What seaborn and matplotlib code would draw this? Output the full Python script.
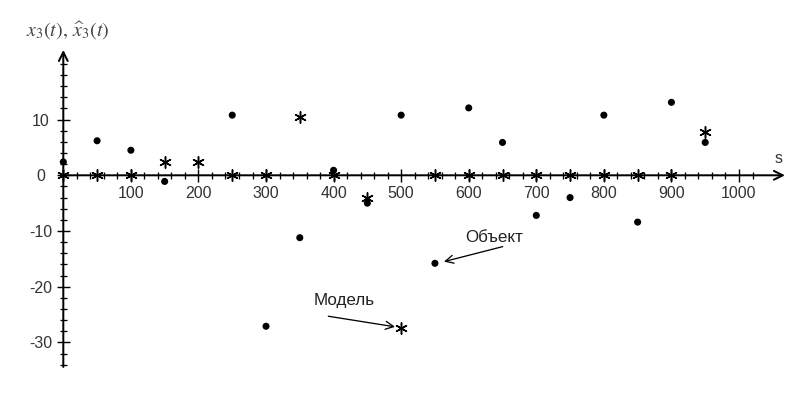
import matplotlib
matplotlib.use("Agg")
import matplotlib.pyplot as plt
import seaborn as sns
import numpy as np

# object (dots) and model (asterisks)
s_obj = [0, 50, 100, 150, 250, 300, 350, 400, 450, 500, 550, 600, 650, 700, 750, 800, 850, 900, 950]
x_obj = [2.4, 6.2, 4.5, -1.1, 10.8, -27.1, -11.2, 0.9, -5.0, 10.8, -15.8, 12.1, 5.9, -7.2, -4.0, 10.8, -8.4, 13.1, 5.9]

s_mod = [0, 50, 100, 150, 200, 250, 300, 350, 400, 450, 500, 550, 600, 650, 700, 750, 800, 850, 900, 950]
x_mod = [0, 0, 0, 2.3, 2.4, 0, 0, 10.4, 0, -4.1, -27.5, 0, 0, 0, 0, 0, 0, 0, 0, 7.8]

x_major = [100, 200, 300, 400, 500, 600, 700, 800, 900, 1000]
y_major = [-30, -20, -10, 0, 10]

sns.set_style("white")
plt.rcParams['font.family'] = ['Liberation Sans', 'DejaVu Sans']
plt.rcParams['axes.unicode_minus'] = False
plt.rcParams['mathtext.fontset'] = 'stix'

fig = plt.figure(figsize=(805/72, 395/72), dpi=72)
ax = fig.add_axes([0, 0, 1, 1])
ax.set_xlim(-93.7, 1097.7)
ax.set_ylim(-39.44, 31.47)

# axes through the origin
for sp in ax.spines.values():
    sp.set_visible(False)
ax.spines['bottom'].set_position(('data', 0))
ax.spines['left'].set_position(('data', 0))
ax.annotate('', xy=(1068, 0), xytext=(0, 0),
            arrowprops=dict(arrowstyle='->', color='black', lw=2, mutation_scale=22, shrinkA=0, shrinkB=0))
ax.annotate('', xy=(0, 22.5), xytext=(0, -34.4),
            arrowprops=dict(arrowstyle='->', color='black', lw=2, mutation_scale=22, shrinkA=0, shrinkB=0))

ax.set_xticks(x_major)
ax.set_xticks(np.arange(20, 1021, 20), minor=True)
ax.set_yticks(y_major)
ax.set_yticks(np.arange(-34, 21, 2), minor=True)
ax.tick_params(axis='both', which='both', bottom=True, left=True, top=False, right=False)
ax.tick_params(axis='both', which='major', direction='inout', length=13, width=1.4,
               color='black', labelsize=16, labelcolor='#333333')
ax.tick_params(axis='both', which='minor', direction='inout', length=7, width=1.3, color='black')
ax.tick_params(axis='x', which='major', pad=4)
ax.tick_params(axis='y', which='major', pad=16)
ax.set_xticklabels([str(v) for v in x_major])
ax.set_yticklabels([str(v) for v in y_major])
for lab in ax.get_yticklabels():
    lab.set_horizontalalignment('center')

sns.scatterplot(x=s_obj, y=x_obj, ax=ax, color='black', s=50, marker='o', edgecolor='none', zorder=5)
sns.scatterplot(x=s_mod, y=x_mod, ax=ax, color='black', s=130, marker=(6, 2, 0), linewidth=1.5, zorder=6)

ax.text(6.2, 26.1, r'$x_3\left(t\right),\,\widehat{x}_3\left(t\right)$', fontsize=20,
        ha='center', va='center', color='#444444')
ax.text(1058, 3.05, 's', fontsize=16, ha='center', va='center', color='#333333')

ax.text(637.4, -11.1, 'Объект', fontsize=17, ha='center', va='center', color='#222222')
ax.annotate('', xy=(563.4, -15.5), xytext=(650.3, -12.8),
            arrowprops=dict(arrowstyle='->', color='black', lw=1.3, mutation_scale=20, shrinkA=0, shrinkB=0))
ax.text(416.2, -22.5, 'Модель', fontsize=17, ha='center', va='center', color='#222222')
ax.annotate('', xy=(490.9, -27.2), xytext=(392.2, -25.3),
            arrowprops=dict(arrowstyle='->', color='black', lw=1.3, mutation_scale=20, shrinkA=0, shrinkB=0))

fig.savefig('out.png', dpi=72)
